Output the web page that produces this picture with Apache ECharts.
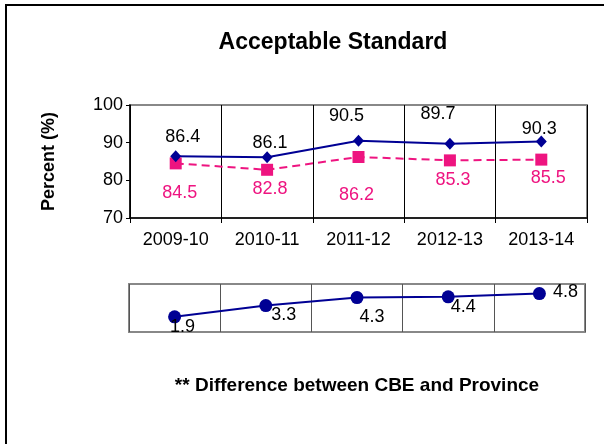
<!DOCTYPE html>
<html>
<head>
<meta charset="utf-8">
<script src="https://cdn.jsdelivr.net/npm/echarts@6/dist/echarts.min.js"></script>
<style>
  html, body { margin: 0; padding: 0; background: #fff; }
  #main { width: 604px; height: 444px; }
</style>
</head>
<body>
<div id="main"></div>
<script>
const years = ['2009-10', '2010-11', '2011-12', '2012-13', '2013-14']
const cbe = [86.4, 86.1, 90.5, 89.7, 90.3]
const province = [84.5, 82.8, 86.2, 85.3, 85.5]
const diff = [1.9, 3.3, 4.3, 4.4, 4.8]
const yTicks = [70, 80, 90, 100]

// label nudges, as they were placed by hand in the original
const cbeShift = [[7, -19], [3, -14], [-12, -25], [-12, -30], [-2, -13]]
const provShift = [[4, 30], [3, 19], [-2, 38], [3, 20], [7, 18]]
const diffShift = [[8, 10], [18, 9], [15, 19], [15, 10], [26, -2]]

const font = 'Liberation Sans, Arial, sans-serif'
const blue = '#000094'
const pink = '#ee1480'

function withLabels(values, shifts, color) {
  return values.map((v, i) => ({
    value: v,
    label: {show: true, position: 'inside', offset: shifts[i], color: color,
      fontSize: 18, fontFamily: font}
  }))
}

let myChart = echarts.init(document.getElementById('main'))

let option = {
  animation: false,
  title: [
    {
      text: 'Acceptable Standard',
      left: 328, top: 26, textAlign: 'center',
      textStyle: {fontSize: 23, fontWeight: 'bold', color: '#000', fontFamily: font}
    },
    {
      text: '** Difference between CBE and Province',
      left: 352, top: 371, textAlign: 'center',
      textStyle: {fontSize: 19, fontWeight: 'bold', color: '#000', fontFamily: font}
    }
  ],
  graphic: [
    {
      type: 'rect', silent: true, z: 100,
      shape: {x: 6, y: 5, width: 620, height: 460},
      style: {fill: 'none', stroke: '#000', lineWidth: 2}
    }
  ],
  grid: [
    {left: 130, right: 17, top: 105, height: 113, show: true,
      borderColor: '#888', borderWidth: 2, backgroundColor: '#fff'},
    {left: 129, right: 19, top: 284, height: 48, show: true,
      borderColor: '#888', borderWidth: 2, backgroundColor: '#fff'}
  ],
  xAxis: [
    {
      type: 'category', gridIndex: 0, data: years, boundaryGap: true,
      axisLine: {lineStyle: {color: '#000', width: 1.5}},
      axisTick: {show: true, length: 5, lineStyle: {color: '#000'}},
      axisLabel: {color: '#000', fontSize: 18, fontFamily: font, margin: 13},
      splitLine: {show: true, interval: 0, lineStyle: {color: '#000', width: 1}}
    },
    {
      type: 'category', gridIndex: 1, data: years, boundaryGap: true,
      axisLine: {show: false}, axisTick: {show: false}, axisLabel: {show: false},
      splitLine: {show: true, interval: 0, lineStyle: {color: '#555', width: 1}}
    }
  ],
  yAxis: [
    {
      type: 'value', gridIndex: 0, min: yTicks[0], max: yTicks[yTicks.length - 1], interval: 10,
      name: 'Percent (%)', nameLocation: 'middle', nameGap: 72, nameRotate: 90,
      nameTextStyle: {fontSize: 18, fontWeight: 'bold', color: '#000', fontFamily: font},
      axisLine: {show: true, lineStyle: {color: '#000', width: 1.5}},
      axisTick: {show: true, length: 4, lineStyle: {color: '#000'}},
      axisLabel: {color: '#000', fontSize: 18, fontFamily: font, margin: 7},
      splitLine: {show: false}
    },
    {
      type: 'value', gridIndex: 1, min: 0, max: 6, show: false
    }
  ],
  series: [
    {
      type: 'line', xAxisIndex: 0, yAxisIndex: 0,
      data: withLabels(province, provShift, pink),
      symbol: 'rect', symbolSize: 12,
      itemStyle: {color: pink},
      lineStyle: {color: pink, width: 2, type: [8, 5]}
    },
    {
      type: 'line', xAxisIndex: 0, yAxisIndex: 0,
      data: withLabels(cbe, cbeShift, '#000'),
      symbol: 'diamond', symbolSize: [11, 12],
      itemStyle: {color: blue},
      lineStyle: {color: blue, width: 2}
    },
    {
      type: 'line', xAxisIndex: 1, yAxisIndex: 1,
      data: withLabels(diff, diffShift, '#000'),
      symbol: 'circle', symbolSize: 13,
      itemStyle: {color: blue},
      lineStyle: {color: blue, width: 2}
    }
  ]
}

myChart.setOption(option)
</script>
</body>
</html>
